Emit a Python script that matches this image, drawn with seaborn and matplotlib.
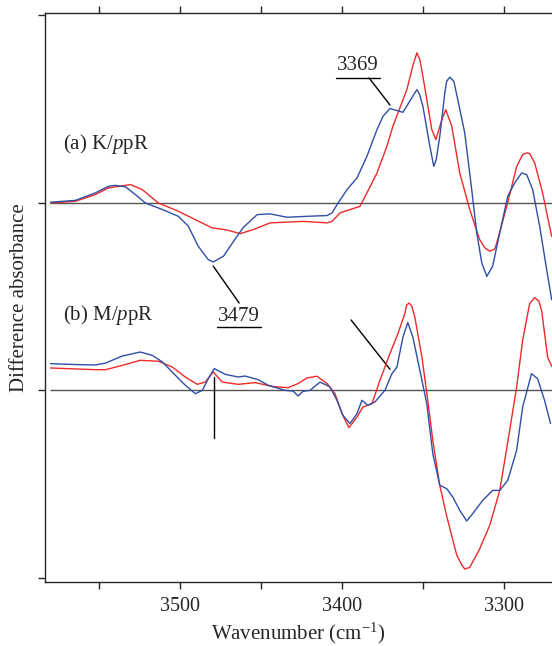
import numpy as np
import pandas as pd
import matplotlib
matplotlib.use("Agg")
import matplotlib.pyplot as plt
from matplotlib.ticker import MultipleLocator, FuncFormatter
import seaborn as sns

# ---------------- data ----------------
# (a) K/ppR  -- values relative to its own baseline
a_blue_wn = [3579.6, 3564.2, 3551.9, 3543.9, 3539.6, 3533.4, 3527.3, 3521.1, 3510.6, 3500.8,
             3494.6, 3488.5, 3482.3, 3479.3, 3473.0, 3465.7, 3460.8, 3452.2, 3444.2, 3433.7,
             3421.4, 3409.1, 3406.0, 3402.3, 3396.8, 3390.6, 3384.5, 3378.3, 3374.6, 3370.3,
             3362.3, 3355.0, 3353.7, 3352.0, 3350.0, 3345.7, 3343.3, 3341.8, 3339.6, 3336.5,
             3335.4, 3333.4, 3330.9, 3328.5, 3324.2,
             3319.9, 3316.8, 3313.7, 3310.6, 3307.0, 3302.6, 3297.7, 3293.4, 3289.1, 3286.0,
             3282.3, 3278.0, 3273.7, 3270.6]
a_blue_val = [0.02, 0.12, 0.52, 0.87, 0.92, 0.84, 0.43, -0.02, -0.37, -0.73,
              -1.26, -2.33, -3.04, -3.16, -2.86, -1.93, -1.33, -0.64, -0.60, -0.78,
              -0.73, -0.69, -0.55, -0.02, 0.69, 1.32, 2.47, 3.89, 4.60, 5.01,
              4.81, 5.84, 6.02, 5.75, 5.13, 3.00, 1.93, 2.29, 3.53, 5.84,
              6.46, 6.68, 6.46, 5.49, 3.71,
              0.69, -1.61, -3.21, -3.93, -3.39, -1.61, 0.34, 1.05, 1.58, 1.49,
              0.69, -1.26, -3.57, -5.17]

a_red_wn = [3579.6, 3564.2, 3551.9, 3543.9, 3530.3, 3523.0, 3513.1, 3500.8, 3490.3, 3479.9,
            3471.9, 3462.6, 3454.6, 3444.2, 3423.9, 3409.1, 3406.0, 3401.1, 3393.1, 3388.8,
            3384.5, 3378.3, 3372.2, 3368.5, 3359.9, 3356.0, 3353.7, 3351.9, 3350.0, 3344.5,
            3342.0, 3338.3, 3335.9, 3332.2, 3327.3, 3321.1, 3315.0, 3311.8, 3308.8, 3305.6,
            3303.9, 3298.3, 3292.2, 3288.5, 3286.0, 3284.2,
            3281.1, 3276.2, 3270.6]
a_red_val = [-0.02, 0.07, 0.43, 0.78, 0.96, 0.69, -0.02, -0.46, -0.91, -1.35,
             -1.44, -1.65, -1.44, -1.08, -1.00, -1.08, -1.00, -0.55, -0.32, -0.20,
             0.52, 1.58, 3.00, 4.07, 6.02, 7.35, 7.98, 7.62, 6.73, 3.89,
             3.36, 4.42, 4.95, 4.07, 1.58, -0.37, -1.97, -2.41, -2.59, -2.47,
             -1.97, -0.20, 1.92, 2.56, 2.65, 2.61,
             2.12, 0.52, -1.80]

# (b) M/ppR
b_blue_wn = [3579.6, 3562.3, 3551.9, 3545.7, 3535.3, 3524.2, 3516.8, 3510.6, 3502.6, 3496.5,
             3490.3, 3486.0, 3482.3, 3478.6, 3471.9, 3463.9, 3459.6, 3451.6, 3445.4, 3435.0,
             3430.0, 3427.0, 3423.9, 3419.6, 3413.4, 3407.3, 3403.0, 3399.3, 3395.0, 3390.6,
             3387.6, 3383.9, 3379.6, 3373.4, 3369.1, 3366.0, 3362.3, 3359.3, 3356.2, 3351.9,
             3347.6, 3343.9, 3339.6, 3335.3, 3331.6, 3327.3, 3323.0, 3319.3, 3313.1, 3307.0,
             3302.6, 3297.7, 3292.2, 3288.5, 3283.0, 3279.3, 3275.0, 3271.3]
b_blue_val = [1.42, 1.37, 1.35, 1.45, 1.83, 2.04, 1.86, 1.51, 0.80, 0.27,
              -0.18, 0.00, 0.62, 1.16, 0.85, 0.71, 0.76, 0.57, 0.27, 0.00,
              -0.04, -0.30, -0.05, 0.00, 0.44, 0.18, -0.53, -1.33, -1.77, -1.24,
              -0.53, -0.80, -0.62, 0.00, 0.89, 1.24, 2.84, 3.61, 2.84, 1.07,
              -0.71, -3.37, -5.06, -5.24, -5.68, -6.39, -6.96, -6.57, -5.86, -5.33,
              -5.33, -4.80, -3.20, -0.89, 0.89, 0.62, -0.53, -1.77]

b_red_wn = [3579.6, 3551.9, 3545.7, 3535.3, 3524.2, 3513.1, 3504.5, 3496.5, 3489.1, 3484.2,
            3479.3, 3473.7, 3463.9, 3453.4, 3443.0, 3433.1, 3427.0, 3421.4, 3415.3, 3409.1,
            3404.2, 3399.9, 3395.6, 3390.6, 3387.0, 3381.4, 3376.5, 3370.3, 3365.4, 3361.1,
            3360.1, 3358.6, 3356.8, 3355.0, 3350.6, 3347.0, 3343.9, 3339.6, 3335.3, 3329.1,
            3326.0, 3324.2, 3321.1,
            3315.0, 3308.8, 3302.6, 3296.5, 3292.2, 3288.5, 3284.2, 3281.1, 3278.5, 3276.8,
            3273.1, 3270.6]
b_red_val = [1.19, 1.10, 1.10, 1.33, 1.60, 1.55, 1.24, 0.71, 0.32, 0.44,
             0.98, 0.44, 0.32, 0.41, 0.21, 0.14, 0.36, 0.66, 0.75, 0.36,
             -0.18, -1.24, -1.99, -1.42, -0.89, -0.71, 0.53, 1.96, 3.02, 4.09,
             4.53, 4.65, 4.48, 3.91, 1.77, -0.53, -2.66, -5.06, -6.71, -8.79,
             -9.30, -9.52, -9.43,
             -8.45, -7.19, -5.33, -2.13, 0.18, 2.66, 4.62, 4.94, 4.75, 4.26,
             1.77, 1.28]

offset_a = 20.0
offset_b = 10.0
y_ticks = [0, 10, 20, 30]
x_tick_labels = [3500, 3400, 3300]

red = "#ee2a2a"
blue = "#2f4ea6"

# ---------------- styling ----------------
sns.set_style("ticks")
plt.rcParams["font.family"] = ["Liberation Serif", "DejaVu Serif"]
plt.rcParams["mathtext.fontset"] = "custom"
plt.rcParams["mathtext.rm"] = "Liberation Serif"
plt.rcParams["mathtext.it"] = "Liberation Serif:italic"
plt.rcParams["axes.linewidth"] = 1.0

fig = plt.figure(figsize=(5.52, 6.46), dpi=100)
ax = fig.add_axes([45 / 552, 1 - 582 / 646, 1 - 45 / 552, (582 - 13) / 646])

ax.hlines([offset_a, offset_b], 3580, 3270.4, color="#555555", lw=1.0, zorder=1)

for wn, val, off, col in [
    (a_red_wn, a_red_val, offset_a, red),
    (a_blue_wn, a_blue_val, offset_a, blue),
    (b_red_wn, b_red_val, offset_b, red),
    (b_blue_wn, b_blue_val, offset_b, blue),
]:
    df = pd.DataFrame({"wn": wn, "v": np.array(val) + off})
    sns.lineplot(data=df, x="wn", y="v", color=col, lw=1.0, ax=ax,
                 estimator=None, sort=True, zorder=3)

ax.set_xlim(3583, 3270.4)
ax.set_ylim(-0.21, 30.10)

ax.xaxis.set_major_locator(MultipleLocator(50))
ax.xaxis.set_major_formatter(FuncFormatter(
    lambda v, p: f"{int(round(v))}" if int(round(v)) in x_tick_labels else ""))
ax.set_yticks(y_ticks)
ax.set_yticklabels([])
ax.tick_params(axis="both", direction="out", length=5, width=1.0, labelsize=14.5)
ax.tick_params(axis="x", top=True, labeltop=False, pad=6)
ax.spines["right"].set_visible(False)

ax.set_xlabel("Wavenumber (cm$^{-1}$)", fontsize=15, labelpad=3)
ax.set_ylabel("Difference absorbance", fontsize=15, labelpad=3)

# labels
ax.text(3571.6, 23.12, r"(a) K/$\mathit{p}$pR", fontsize=15, ha="left", va="center")
ax.text(3571.6, 14.01, r"(b) M/$\mathit{p}$pR", fontsize=15, ha="left", va="center")

# annotations
ax.text(3390.0, 27.33, "3369", fontsize=15, ha="center", va="center")
ax.plot([3403.6, 3376.5], [26.64, 26.64], color="black", lw=1.0)
ax.plot([3383.2, 3370.3], [26.64, 25.20], color="black", lw=1.0)

ax.text(3463.2, 13.92, "3479", fontsize=15, ha="center", va="center")
ax.plot([3476.8, 3449.7], [13.39, 13.39], color="black", lw=1.0)
ax.plot([3479.3, 3463.3], [16.62, 14.65], color="black", lw=1.0)

ax.plot([3394.3, 3370.3], [13.75, 11.12], color="black", lw=1.0)
ax.plot([3478.6, 3478.6], [10.72, 7.44], color="black", lw=1.0)

fig.savefig("out.png", dpi=100)
